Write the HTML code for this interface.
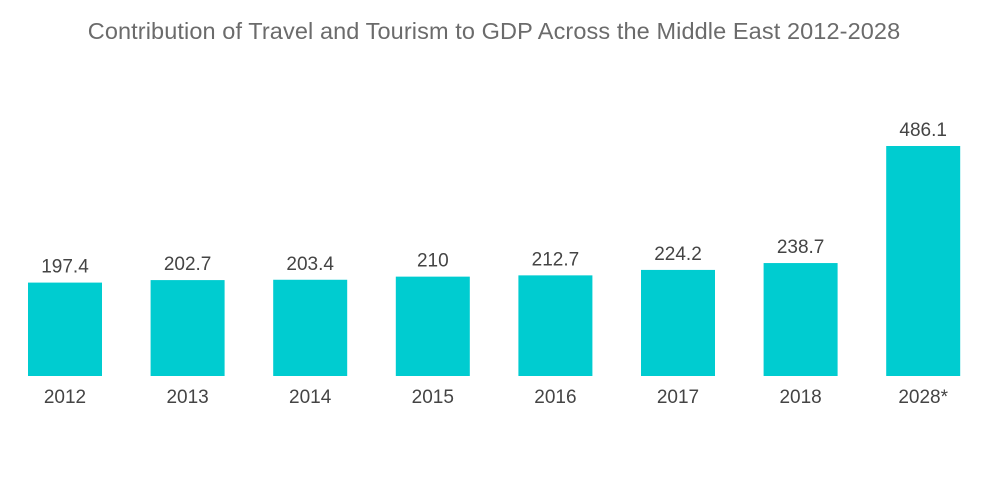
<!DOCTYPE html>
<html><head><meta charset="utf-8"><style>
body{margin:0;background:#fff;}
svg{display:block;font-family:"Liberation Sans",sans-serif;}
</style></head><body>
<svg id="chart" width="1000" height="504" viewBox="0 0 1000 504">
<text x="494" y="39" text-anchor="middle" font-size="23.5" letter-spacing="0.1" fill="#6b6b6b">Contribution of Travel and Tourism to GDP Across the Middle East 2012-2028</text>
<g id="bars"></g>
</svg>
<script>
const categories=["2012","2013","2014","2015","2016","2017","2018","2028*"];
const values=[197.4,202.7,203.4,210,212.7,224.2,238.7,486.1];
const labels=["197.4","202.7","203.4","210","212.7","224.2","238.7","486.1"];
const baseY=376, scale=230/486.1, x0=65, step=122.6, bw=74;
const ns="http://www.w3.org/2000/svg";
const g=document.getElementById('bars');
function xPos(i){return x0+i*step;}
function yPos(v){return baseY-v*scale;}
categories.forEach((c,i)=>{
  const r=document.createElementNS(ns,'rect');
  
  
  r.setAttribute('x',xPos(i)-bw/2);r.setAttribute('y',yPos(values[i]));
  r.setAttribute('width',bw);r.setAttribute('height',baseY-yPos(values[i]));
  r.setAttribute('fill','#00ccd0');g.appendChild(r);
  const t=document.createElementNS(ns,'text');
  
  
  t.setAttribute('x',xPos(i));t.setAttribute('y',yPos(values[i])-10);
  t.setAttribute('text-anchor','middle');t.setAttribute('font-size','19');t.setAttribute('fill','#444');
  t.textContent=labels[i];g.appendChild(t);
  const a=document.createElementNS(ns,'text');
  
  
  a.setAttribute('x',xPos(i));a.setAttribute('y',403);
  a.setAttribute('text-anchor','middle');a.setAttribute('font-size','19');a.setAttribute('fill','#444');
  a.textContent=c;g.appendChild(a);
});
</script>
</body></html>
